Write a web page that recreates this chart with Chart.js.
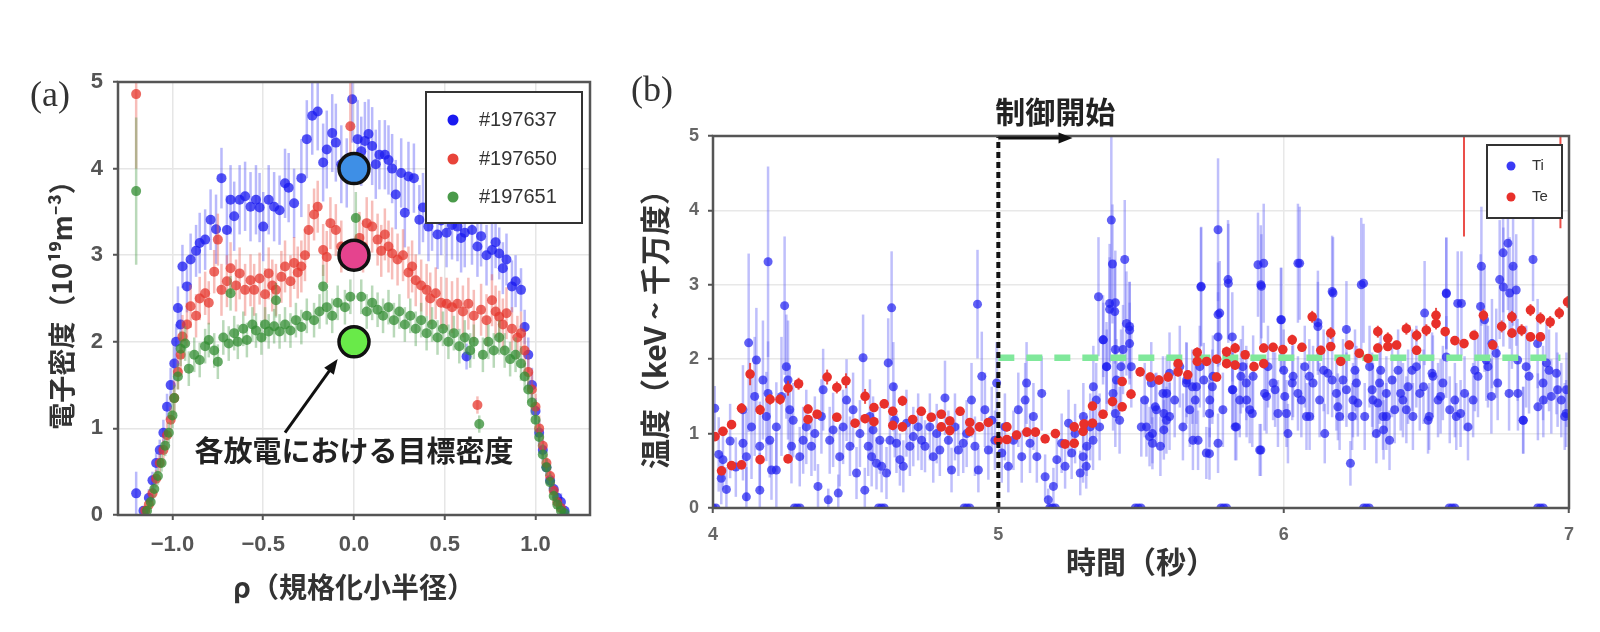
<!DOCTYPE html>
<html>
<head>
<meta charset="utf-8">
<script src="https://cdn.jsdelivr.net/npm/chart.js@4.4.1/dist/chart.umd.min.js"></script>
<style>
  html, body { margin: 0; padding: 0; background: #fff; }
  #wrap { position: relative; width: 1600px; height: 632px; overflow: hidden; }
  canvas { position: absolute; top: 0; }
  #chartA { left: 0; }
  #chartB { left: 610px; }
</style>
</head>
<body>
<div id="wrap">
  <canvas id="chartA" width="610" height="632"></canvas>
  <canvas id="chartB" width="990" height="632"></canvas>
</div>
<script>
// ---------- panel (a): electron density profiles ----------
const rhoTicks = [-1, -0.5, 0, 0.5, 1];
const rhoTickLabels = ['−1.0', '−0.5', '0.0', '0.5', '1.0'];
const densTicks = [0, 1, 2, 3, 4, 5];
const shotLabels = ['#197637', '#197650', '#197651'];
const targetDensity = [4, 3, 2]; // set points, all at rho = 0

// [rho, density, error]
const shot197637 = [
  [-1.20,0.25,0.25],[-1.16,0.05,0.05],[-1.13,0.2,0.1],[-1.11,0.4,0.1],[-1.09,0.6,0.12],[-1.07,0.75,0.12],
  [-1.05,0.95,0.15],[-1.03,1.25,0.15],[-1.01,1.5,0.2],[-0.99,1.75,0.2],[-0.98,2.0,0.2],[-0.97,2.39,0.25],
  [-0.955,2.2,0.2],[-0.945,2.87,0.25],[-0.92,2.64,0.3],[-0.90,2.95,0.3],[-0.87,3.05,0.3],[-0.85,3.14,0.35],
  [-0.82,3.18,0.35],[-0.79,3.41,0.35],[-0.76,3.3,0.4],[-0.73,3.89,0.35],[-0.70,3.29,0.4],[-0.68,3.64,0.4],
  [-0.66,3.45,0.4],[-0.63,3.64,0.4],[-0.60,3.68,0.4],[-0.57,3.56,0.4],[-0.54,3.64,0.4],[-0.52,3.55,0.4],
  [-0.50,3.33,0.4],[-0.47,3.64,0.4],[-0.44,3.56,0.4],[-0.41,3.52,0.4],[-0.38,3.83,0.4],[-0.36,3.78,0.4],
  [-0.33,3.6,0.4],[-0.29,3.89,0.45],[-0.26,4.34,0.45],[-0.23,4.61,0.45],[-0.20,4.66,0.45],[-0.17,4.07,0.45],
  [-0.15,4.22,0.45],[-0.12,4.41,0.45],[-0.10,4.30,0.45],[-0.07,4.05,0.45],[-0.04,3.95,0.4],[-0.01,4.80,0.5],
  [0.02,4.34,0.45],[0.04,4.2,0.4],[0.06,4.32,0.45],[0.08,4.4,0.4],[0.10,4.26,0.45],[0.12,4.05,0.4],
  [0.14,4.16,0.4],[0.17,4.16,0.4],[0.19,4.1,0.4],[0.21,4.0,0.4],[0.23,3.70,0.4],[0.26,3.95,0.4],
  [0.28,3.49,0.4],[0.30,3.91,0.4],[0.33,3.89,0.4],[0.36,3.41,0.4],[0.38,3.55,0.4],[0.41,3.33,0.4],
  [0.43,3.45,0.4],[0.46,3.24,0.4],[0.48,3.4,0.4],[0.51,3.26,0.4],[0.54,3.35,0.4],[0.57,3.33,0.4],
  [0.59,3.2,0.4],[0.61,3.26,0.4],[0.62,1.83,0.15],[0.65,3.29,0.4],[0.68,3.1,0.35],[0.70,3.22,0.35],
  [0.73,3.0,0.35],[0.76,3.06,0.35],[0.78,3.15,0.3],[0.80,3.02,0.3],[0.82,2.85,0.3],[0.84,2.95,0.3],
  [0.87,2.64,0.3],[0.89,2.7,0.3],[0.92,2.6,0.25],[0.94,2.17,0.2],[0.96,1.85,0.2],[0.98,1.5,0.2],
  [1.00,1.2,0.15],[1.02,0.95,0.15],[1.04,0.75,0.12],[1.06,0.55,0.1],[1.08,0.4,0.1],[1.10,0.3,0.1],
  [1.12,0.2,0.1],[1.14,0.15,0.1],[1.16,0.05,0.05]
];
const shot197650 = [
  [-1.20,4.86,0.86],[-1.15,0.05,0.05],[-1.13,0.12,0.08],[-1.11,0.25,0.1],[-1.09,0.42,0.1],[-1.07,0.6,0.12],
  [-1.05,0.75,0.12],[-1.03,0.92,0.15],[-1.01,1.1,0.15],[-0.99,1.35,0.2],[-0.97,1.65,0.2],[-0.955,1.85,0.2],
  [-0.945,2.06,0.25],[-0.92,2.2,0.25],[-0.90,2.41,0.25],[-0.87,2.3,0.25],[-0.85,2.5,0.25],[-0.82,2.56,0.25],
  [-0.80,2.45,0.25],[-0.77,2.81,0.25],[-0.75,3.18,0.3],[-0.73,2.6,0.3],[-0.70,2.7,0.3],[-0.68,2.85,0.3],
  [-0.65,2.65,0.3],[-0.63,2.79,0.3],[-0.60,2.6,0.3],[-0.57,2.71,0.3],[-0.55,2.6,0.3],[-0.52,2.73,0.3],
  [-0.49,2.55,0.3],[-0.47,2.79,0.3],[-0.45,2.65,0.3],[-0.43,2.60,0.3],[-0.40,2.75,0.3],[-0.38,2.87,0.3],
  [-0.35,2.7,0.3],[-0.33,2.91,0.3],[-0.31,2.8,0.3],[-0.29,2.87,0.3],[-0.27,3.0,0.3],[-0.25,3.29,0.3],
  [-0.22,3.47,0.3],[-0.20,3.56,0.3],[-0.17,3.06,0.3],[-0.15,2.98,0.3],[-0.13,3.37,0.3],[-0.10,3.29,0.3],
  [-0.07,3.1,0.3],[-0.02,4.49,0.5],[0.03,3.2,0.3],[0.05,3.1,0.3],[0.07,3.37,0.3],[0.10,3.33,0.3],
  [0.13,3.18,0.3],[0.15,3.05,0.3],[0.17,3.24,0.3],[0.19,3.1,0.3],[0.21,3.02,0.3],[0.24,2.95,0.3],
  [0.27,3.0,0.3],[0.30,2.8,0.3],[0.32,2.87,0.3],[0.34,2.71,0.3],[0.37,2.65,0.3],[0.40,2.60,0.3],
  [0.42,2.5,0.3],[0.45,2.56,0.3],[0.48,2.45,0.3],[0.51,2.44,0.3],[0.54,2.4,0.3],[0.57,2.44,0.3],
  [0.60,2.35,0.3],[0.63,2.44,0.3],[0.66,2.3,0.3],[0.68,1.27,0.1],[0.70,2.37,0.3],[0.73,2.25,0.3],
  [0.76,2.48,0.3],[0.78,2.35,0.3],[0.80,2.29,0.3],[0.82,2.2,0.3],[0.84,2.33,0.3],[0.87,2.15,0.25],
  [0.90,2.05,0.25],[0.92,2.10,0.25],[0.94,1.9,0.2],[0.96,1.65,0.2],[0.98,1.45,0.2],[1.00,1.25,0.15],
  [1.02,1.0,0.15],[1.04,0.8,0.12],[1.06,0.6,0.1],[1.08,0.45,0.1],[1.10,0.28,0.1],[1.12,0.15,0.08],
  [1.14,0.08,0.05]
];
const shot197651 = [
  [-1.20,3.74,0.85],[-1.14,0.05,0.05],[-1.12,0.15,0.08],[-1.10,0.3,0.1],[-1.08,0.45,0.1],[-1.06,0.6,0.1],
  [-1.04,0.8,0.12],[-1.02,0.95,0.12],[-1.00,1.15,0.15],[-0.99,1.35,0.15],[-0.97,1.6,0.15],[-0.955,1.92,0.2],
  [-0.93,1.98,0.2],[-0.91,1.69,0.2],[-0.88,1.85,0.2],[-0.85,1.79,0.2],[-0.82,1.95,0.2],[-0.80,2.02,0.2],
  [-0.77,1.9,0.2],[-0.75,1.77,0.2],[-0.72,2.05,0.2],[-0.69,1.98,0.2],[-0.68,2.56,0.2],[-0.66,2.1,0.2],
  [-0.64,2.0,0.2],[-0.61,2.15,0.2],[-0.59,2.02,0.2],[-0.56,2.2,0.2],[-0.54,2.13,0.2],[-0.51,2.05,0.2],
  [-0.49,2.2,0.2],[-0.47,2.12,0.2],[-0.44,2.18,0.2],[-0.43,2.48,0.2],[-0.41,2.12,0.2],[-0.38,2.2,0.2],
  [-0.35,2.13,0.2],[-0.32,2.25,0.2],[-0.29,2.17,0.2],[-0.26,2.3,0.2],[-0.22,2.25,0.2],[-0.19,2.35,0.2],
  [-0.17,2.64,0.25],[-0.15,2.40,0.2],[-0.12,2.3,0.2],[-0.09,2.45,0.2],[-0.05,2.4,0.2],[-0.02,2.52,0.2],
  [0.01,3.43,0.3],[0.04,2.52,0.2],[0.07,2.35,0.2],[0.10,2.45,0.2],[0.13,2.37,0.2],[0.16,2.3,0.2],
  [0.19,2.4,0.2],[0.22,2.25,0.2],[0.25,2.35,0.2],[0.28,2.2,0.2],[0.31,2.3,0.2],[0.34,2.15,0.2],
  [0.37,2.25,0.2],[0.40,2.1,0.2],[0.43,2.2,0.2],[0.46,2.05,0.2],[0.49,2.15,0.2],[0.52,2.0,0.2],
  [0.55,2.1,0.2],[0.58,1.95,0.2],[0.61,2.05,0.2],[0.64,1.9,0.2],[0.66,2.0,0.2],[0.69,1.05,0.1],
  [0.71,1.85,0.2],[0.74,2.0,0.2],[0.77,1.9,0.2],[0.80,2.05,0.2],[0.83,1.9,0.2],[0.86,1.8,0.2],
  [0.89,1.85,0.2],[0.92,1.75,0.2],[0.94,1.6,0.15],[0.96,1.45,0.15],[0.98,1.3,0.15],[1.00,1.1,0.15],
  [1.02,0.9,0.12],[1.04,0.7,0.12],[1.06,0.55,0.1],[1.08,0.38,0.1],[1.10,0.22,0.08],[1.12,0.12,0.06],
  [1.14,0.05,0.05],[1.16,0.02,0.03]
];

// ---------- panel (b): ion / electron temperature ----------
const timeTicks = [4, 5, 6, 7];
const tempTicks = [0, 1, 2, 3, 4, 5];
const controlStart = 5;
const targetTe = 2.02;
const targetEnd = 6.97;

// [time, Ti, error]
const ti = [
  [4.0,0,0],[4.01,0,0],[4.006,1.34,0.3],[4.02,0.72,0.5],[4.029,0.4,0.35],[4.035,0.65,0.4],[4.047,0.25,0.3],
  [4.06,0.9,0.5],[4.08,0.55,0.4],[4.105,1.32,0.6],[4.105,0.87,0.5],[4.117,0.69,0.6],[4.117,0.15,0.4],
  [4.125,2.22,1.2],[4.135,1.09,0.7],[4.146,1.5,0.8],[4.152,1.99,0.7],[4.164,0.83,0.6],[4.164,0.24,0.5],
  [4.175,1.72,0.8],[4.187,1.23,0.6],[4.193,3.31,1.28],[4.193,1.54,0.7],[4.199,0.91,0.5],[4.205,0.51,0.4],
  [4.222,0.51,0.5],[4.222,1.09,0.6],[4.240,1.5,0.8],[4.251,2.72,0.93],[4.257,1.9,0.7],[4.263,1.72,0.8],
  [4.269,1.32,0.6],[4.275,0.83,0.5],[4.281,1.18,0.5],[4.285,0,0],[4.295,0,0],[4.305,0,0],
  [4.304,0.69,0.4],[4.316,0.91,0.45],[4.327,1.09,0.5],[4.345,0.83,0.4],[4.357,1.0,0.5],[4.368,0.29,0.3],
  [4.380,1.23,0.5],[4.386,1.59,0.55],[4.404,0.11,0.15],[4.409,0.91,0.45],[4.421,1.05,0.5],[4.439,0.2,0.25],
  [4.444,0.69,0.4],[4.456,1.09,0.5],[4.468,1.45,0.55],[4.480,0.83,0.4],[4.491,1.32,0.5],[4.503,0.47,0.35],
  [4.515,1.0,0.45],[4.526,2.02,0.58],[4.532,0.24,0.3],[4.544,0.83,0.4],[4.550,1.23,0.5],[4.556,0.69,0.4],
  [4.561,1.05,0.45],[4.573,0.6,0.35],[4.585,0.91,0.45],[4.591,0.56,0.35],[4.58,0,0],[4.59,0,0],[4.60,0,0],
  [4.608,0.47,0.35],[4.614,1.95,0.6],[4.620,0.91,0.45],[4.626,2.69,0.76],[4.632,1.63,0.6],[4.637,1.18,0.5],
  [4.643,0.87,0.4],[4.655,0.65,0.35],[4.667,0.56,0.35],[4.678,1.14,0.45],[4.690,0.83,0.4],[4.702,0.96,0.4],
  [4.719,1.09,0.45],[4.731,0.91,0.4],[4.743,0.83,0.35],[4.760,1.09,0.45],[4.772,0.69,0.35],[4.784,1.0,0.4],
  [4.795,0.78,0.35],[4.813,1.48,0.5],[4.825,0.91,0.4],[4.836,0.51,0.3],[4.848,1.09,0.45],[4.860,0.78,0.35],
  [4.877,0.87,0.4],[4.889,1.0,0.45],[4.906,1.45,0.5],[4.918,0.83,0.4],[4.927,2.74,0.73],[4.930,0.51,0.3],
  [4.942,1.77,0.6],[4.953,1.32,0.5],[4.965,0.78,0.4],[4.977,1.18,0.45],[4.988,0.91,0.4],[4.994,1.68,0.55],
  [4.88,0,0],[4.89,0,0],[4.90,0,0],
  [5.012,0.74,0.4],[5.023,1.09,0.45],[5.035,0.56,0.35],[5.053,0.91,0.4],[5.070,1.32,0.5],[5.082,0.69,0.35],
  [5.094,1.45,0.5],[5.099,1.68,0.55],[5.111,0.87,0.4],[5.123,1.23,0.45],[5.135,0.69,0.35],[5.152,1.54,0.5],
  [5.164,0.42,0.3],[5.175,0.11,0.15],[5.193,0.29,0.25],[5.205,0.65,0.35],[5.222,0.87,0.4],[5.234,0.56,0.3],
  [5.246,1.14,0.45],[5.257,0.74,0.35],[5.269,1.0,0.4],[5.287,0.47,0.3],[5.297,0.69,0.35],[5.298,1.23,0.45],
  [5.308,0.56,0.3],[5.310,0.83,0.4],[5.322,1.09,0.45],[5.332,0.91,0.4],[5.333,1.63,0.55],[5.343,1.45,0.5],
  [5.351,2.84,0.8],[5.355,1.09,0.45],[5.18,0,0],[5.19,0,0],[5.20,0,0],
  [5.367,2.26,0.6],[5.379,1.9,0.6],[5.390,2.75,0.8],[5.396,3.87,1.2],[5.400,3.28,0.8],[5.402,1.54,0.5],
  [5.408,2.64,0.7],[5.414,1.72,0.55],[5.425,1.18,0.45],[5.437,2.13,0.6],[5.443,3.34,0.8],[5.449,2.48,0.7],
  [5.460,2.39,0.65],[5.466,1.9,0.55],[5.48,0,0],[5.49,0,0],[5.50,0,0],
  [5.501,1.09,0.4],[5.513,1.45,0.5],[5.530,0.96,0.4],[5.536,1.68,0.55],[5.554,1.32,0.5],[5.568,0.83,0.4],
  [5.577,1.54,0.5],[5.589,1.18,0.45],[5.600,1.81,0.55],[5.618,1.45,0.5],[5.636,1.9,0.55],[5.647,1.09,0.45],
  [5.659,1.68,0.55],[5.671,1.32,0.5],[5.682,0.91,0.4],[5.694,1.63,0.5],[5.706,1.9,0.55],[5.711,2.98,0.8],
  [5.729,0.74,0.35],[5.741,1.45,0.5],[5.752,1.77,0.55],[5.770,3.74,0.96],[5.770,2.6,0.7],[5.776,2.62,0.7],
  [5.787,1.32,0.5],[5.78,0,0],[5.79,0,0],[5.80,0,0],
  [5.805,3.07,0.8],[5.822,1.59,0.5],[5.834,1.09,0.45],[5.846,1.45,0.5],[5.857,1.9,0.55],[5.869,1.68,0.5],
  [5.881,1.32,0.45],[5.893,1.77,0.55],[5.910,3.27,0.7],[5.916,0.78,0.35],[5.922,2.98,0.7],[5.933,1.54,0.5],
  [5.945,1.9,0.55],[5.963,1.68,0.5],[5.980,1.27,0.45],[5.992,2.53,0.7],[6.004,1.5,0.5],[6.015,1.0,0.4],
  [6.033,1.77,0.55],
  [6.056,3.29,0.76],[6.062,1.45,0.5],[6.074,1.9,0.55],[6.091,1.23,0.45],[6.103,1.68,0.5],[6.120,2.49,0.7],
  [6.126,1.45,0.5],[6.144,1.0,0.4],[6.155,1.81,0.55],[6.173,2.89,0.75],[6.185,1.54,0.5],[6.196,1.23,0.45],
  [6.208,1.72,0.55],[6.220,2.4,0.65],[6.234,0.6,0.3],[6.243,1.45,0.5],[6.255,1.68,0.5],[6.272,3.0,0.9],
  [6.284,1.23,0.45],[6.301,1.9,0.55],[6.28,0,0],[6.29,0,0],[6.30,0,0],
  [6.313,1.45,0.5],[6.325,1.0,0.4],[6.336,1.68,0.55],[6.348,1.23,0.45],[6.360,1.54,0.5],[6.371,0.91,0.4],
  [6.389,1.32,0.45],[6.401,1.85,0.55],[6.418,1.45,0.5],[6.436,1.63,0.5],[6.453,1.23,0.45],[6.465,1.9,0.55],
  [6.477,1.54,0.5],[6.494,2.62,0.7],[6.506,1.18,0.45],[6.523,1.77,0.55],[6.541,1.45,0.5],[6.558,1.68,0.5],
  [6.570,2.89,0.75],[6.582,1.32,0.45],[6.58,0,0],[6.59,0,0],[6.60,0,0],
  [6.605,1.23,0.45],[6.623,2.75,0.7],[6.634,1.54,0.5],[6.646,1.09,0.45],[6.664,1.45,0.5],[6.681,1.77,0.55],
  [6.693,3.25,0.8],[6.704,2.53,0.7],[6.716,1.9,0.55],[6.728,1.5,0.5],[6.745,2.08,0.6],[6.757,3.07,0.8],
  [6.769,3.43,0.8],[6.786,3.56,0.9],[6.792,2.89,0.75],[6.804,3.25,0.8],[6.815,2.93,0.75],[6.821,1.54,0.5],
  [6.839,1.18,0.45],[6.850,1.9,0.55],[6.874,3.34,0.56],[6.891,1.36,0.45],[6.909,1.68,0.5],[6.921,1.95,0.55],
  [6.938,1.5,0.5],[6.956,1.81,0.55],[6.973,1.45,0.5],[6.985,1.23,0.45],[6.991,1.59,0.5],
  [6.89,0,0],[6.90,0,0],[6.91,0,0],
  // second pass over the dense band after 5.35 s
  [5.368,2.26,0.5],[5.39,2.67,0.7],[5.41,2.76,0.7],[5.38,1.9,0.5],[5.41,2.13,0.55],[5.43,1.9,0.5],
  [5.46,2.44,0.6],[5.46,2.21,0.55],[5.41,1.27,0.45],[5.519,1.09,0.4],[5.54,1.0,0.4],[5.55,1.36,0.45],
  [5.58,1.27,0.45],[5.59,1.54,0.5],[5.60,1.23,0.45],[5.54,0.87,0.35],[5.58,1.05,0.4],[5.66,1.72,0.5],
  [5.68,1.63,0.5],[5.69,1.45,0.5],[5.70,0.91,0.4],[5.71,2.97,0.8],[5.72,1.72,0.5],[5.74,1.27,0.45],
  [5.75,1.63,0.5],[5.77,0.87,0.4],[5.74,0.73,0.35],[5.77,2.3,0.6],[5.806,3.02,0.8],[5.82,2.3,0.6],
  [5.82,1.59,0.5],[5.83,1.09,0.45],[5.85,1.77,0.5],[5.87,1.45,0.5],[5.89,1.27,0.45],[5.92,3.0,0.8],
  [5.93,3.29,0.8],[5.94,1.5,0.5],[5.92,0.78,0.35],[5.97,1.59,0.5],[5.99,2.53,0.7],[6.0,1.85,0.55],
  [6.01,1.27,0.45],[6.03,1.68,0.5],[6.05,3.29,0.8],[6.05,1.54,0.5],[6.08,1.23,0.45],[6.09,1.77,0.5],
  [6.12,2.44,0.6],[6.14,1.85,0.55],[6.17,2.91,0.75],[6.17,1.72,0.5],[6.19,1.36,0.45],[6.22,1.59,0.5],
  [6.24,1.23,0.45],[6.25,1.85,0.55],[6.28,3.02,0.8],[6.26,1.41,0.45],[6.31,1.59,0.5],[6.33,1.41,0.45],
  [6.34,1.85,0.55],[6.36,1.23,0.45],[6.38,1.72,0.5],[6.41,1.54,0.5],[6.43,1.32,0.45],[6.45,1.85,0.55],
  [6.35,1.05,0.4],[6.49,1.63,0.5],[6.51,1.23,0.45],[6.52,1.81,0.55],[6.55,1.5,0.5],[6.57,2.88,0.75],
  [6.57,2.03,0.55],[6.60,1.45,0.5],[6.62,1.27,0.45],[6.61,2.75,0.7],[6.67,1.85,0.55],[6.69,2.71,0.7],
  [6.71,1.99,0.55],[6.73,2.21,0.6],[6.75,1.68,0.5],[6.77,2.97,0.8],[6.79,1.54,0.5],[6.80,2.57,0.7],
  [6.82,1.99,0.55],[6.84,1.18,0.45],[6.86,1.77,0.5],[6.89,2.21,0.6],[6.91,1.45,0.5],[6.93,1.85,0.55],
  [6.96,1.59,0.5],[6.99,1.27,0.45]
];

// [time, Te, error]
const te = [
  [4.007,0.96,0.06],[4.035,1.03,0.06],[4.03,0.50,0.06],[4.065,1.12,0.06],[4.065,0.57,0.05],[4.10,0.58,0.05],
  [4.10,1.34,0.07],[4.13,1.80,0.15],[4.165,1.32,0.07],[4.165,0.65,0.05],[4.20,1.46,0.07],[4.235,1.46,0.07],
  [4.263,1.61,0.1],[4.263,0.66,0.05],[4.30,1.67,0.08],[4.333,1.33,0.06],[4.333,1.19,0.06],[4.365,1.26,0.06],
  [4.40,1.76,0.1],[4.434,1.62,0.08],[4.434,1.22,0.06],[4.466,1.71,0.1],[4.498,1.14,0.06],[4.533,1.50,0.1],
  [4.533,1.20,0.06],[4.564,1.35,0.06],[4.564,1.16,0.06],[4.60,1.40,0.06],[4.63,1.30,0.06],[4.63,1.11,0.06],
  [4.664,1.44,0.07],[4.664,1.09,0.06],[4.70,1.19,0.06],[4.73,1.30,0.06],[4.765,1.22,0.06],[4.80,1.26,0.06],
  [4.80,1.09,0.06],[4.83,1.17,0.06],[4.83,1.04,0.06],[4.866,1.30,0.06],[4.90,1.15,0.06],[4.90,1.03,0.06],
  [4.934,1.09,0.06],[4.965,1.15,0.06],[5.0,0.91,0.06],[5.03,1.09,0.06],[5.03,0.92,0.06],[5.064,0.98,0.06],
  [5.10,1.02,0.06],[5.13,1.02,0.06],[5.164,0.93,0.06],[5.20,1.0,0.06],[5.234,0.86,0.06],[5.266,0.87,0.06],
  [5.266,1.09,0.06],[5.297,1.03,0.06],[5.30,1.13,0.06],[5.33,1.14,0.06],[5.33,1.37,0.06],[5.367,1.26,0.06],
  [5.40,1.43,0.06],[5.434,1.36,0.06],[5.434,1.70,0.06],[5.465,1.53,0.06],[5.497,1.83,0.06],[5.532,1.76,0.06],
  [5.563,1.72,0.06],[5.595,1.76,0.06],[5.63,1.83,0.06],[5.63,1.94,0.06],[5.664,1.79,0.06],[5.697,2.09,0.07],
  [5.697,1.97,0.06],[5.73,1.97,0.06],[5.765,1.76,0.06],[5.765,2.0,0.06],[5.80,2.10,0.07],[5.80,1.94,0.06],
  [5.83,2.15,0.07],[5.83,1.92,0.06],[5.865,2.06,0.06],[5.896,1.90,0.06],[5.93,1.94,0.06],[5.93,2.15,0.06],
  [5.963,2.16,0.06],[5.997,2.13,0.06],[6.03,2.26,0.07],[6.064,2.16,0.06],[6.10,2.57,0.08],[6.13,2.12,0.06],
  [6.165,2.35,0.08],[6.165,2.17,0.06],[6.20,1.97,0.06],[6.23,2.19,0.06],[6.265,2.08,0.06],[6.296,2.01,0.06],
  [6.33,2.37,0.08],[6.33,2.15,0.06],[6.365,2.28,0.08],[6.365,2.17,0.06],[6.396,2.19,0.06],[6.43,2.41,0.08],
  [6.466,2.32,0.08],[6.466,2.12,0.06],[6.50,2.39,0.08],[6.534,2.59,0.1],[6.534,2.48,0.08],[6.566,2.37,0.06],
  [6.60,2.25,0.06],[6.632,2.21,0.06],[6.632,5.9,2.25],[6.667,2.32,0.06],[6.70,2.59,0.08],[6.733,2.19,0.06],
  [6.764,2.44,0.08],[6.80,2.35,0.06],[6.80,2.57,0.08],[6.834,2.39,0.08],[6.865,2.66,0.08],[6.865,2.30,0.06],
  [6.90,2.55,0.08],[6.90,2.30,0.06],[6.934,2.50,0.08],[6.966,2.62,0.08],[6.97,6.0,2.24],[6.995,2.77,0.08]
];

// ---------- helpers ----------
const tickFont = '"Liberation Sans", Arial, sans-serif';
const jpFont = '"Noto Sans CJK JP", "Noto Sans", sans-serif';
const toPoints = rows => rows.map(([x, y, e]) => ({x, y, e}));
const fixTicks = values => scale => { scale.ticks = values.map(v => ({value: v})); };

function drawArrow(ctx, x0, y0, x1, y1, width, head) {
  const ang = Math.atan2(y1 - y0, x1 - x0);
  ctx.strokeStyle = '#111';
  ctx.fillStyle = '#111';
  ctx.lineWidth = width;
  ctx.beginPath();
  ctx.moveTo(x0, y0);
  ctx.lineTo(x1 - Math.cos(ang) * head * 0.8, y1 - Math.sin(ang) * head * 0.8);
  ctx.stroke();
  ctx.beginPath();
  ctx.moveTo(x1, y1);
  ctx.lineTo(x1 - head * Math.cos(ang - 0.38), y1 - head * Math.sin(ang - 0.38));
  ctx.lineTo(x1 - head * Math.cos(ang + 0.38), y1 - head * Math.sin(ang + 0.38));
  ctx.closePath();
  ctx.fill();
}

// vertical error bars, drawn right before each dataset's markers
const errorBars = {
  id: 'errorBars',
  beforeDatasetDraw(chart, args) {
    const ds = chart.data.datasets[args.index];
    if (!ds.errColor) return;
    const {ctx, chartArea: a, scales: {x, y}} = chart;
    ctx.save();
    ctx.beginPath();
    ctx.rect(a.left, a.top, a.width, a.height);
    ctx.clip();
    ctx.strokeStyle = ds.errColor;
    ctx.lineWidth = ds.errWidth;
    ds.data.forEach(p => {
      if (!p.e) return;
      const px = x.getPixelForValue(p.x);
      ctx.beginPath();
      ctx.moveTo(px, y.getPixelForValue(p.y - p.e));
      ctx.lineTo(px, y.getPixelForValue(p.y + p.e));
      ctx.stroke();
    });
    ctx.restore();
  }
};

// box around the plot area
const frame = {
  id: 'frame',
  afterDatasetsDraw(chart, args, opts) {
    const {ctx, chartArea: a} = chart;
    ctx.save();
    ctx.strokeStyle = opts.color;
    ctx.lineWidth = opts.width;
    ctx.strokeRect(a.left, a.top, a.width, a.height);
    ctx.restore();
  }
};

// matplotlib-like boxed legend inside the plot area
const boxLegend = {
  id: 'boxLegend',
  afterDraw(chart, args, o) {
    const {ctx, chartArea: a} = chart;
    const left = a.right - o.right - o.width;
    const top = a.top + o.top;
    ctx.save();
    ctx.fillStyle = '#fff';
    ctx.fillRect(left, top, o.width, o.height);
    ctx.strokeStyle = '#333';
    ctx.lineWidth = 2;
    ctx.strokeRect(left, top, o.width, o.height);
    ctx.font = o.font;
    ctx.textBaseline = 'middle';
    chart.data.datasets.filter(d => d.legendRow !== undefined).forEach(d => {
      const yy = top + o.rows[d.legendRow];
      ctx.fillStyle = d.legendColor;
      ctx.beginPath();
      ctx.arc(left + o.markerX, yy, o.radius, 0, Math.PI * 2);
      ctx.fill();
      ctx.fillStyle = '#333';
      ctx.fillText(d.label, left + o.textX, yy);
    });
    ctx.restore();
  }
};

const notesA = {
  id: 'notesA',
  afterDraw(chart) {
    const {ctx, scales: {x, y}} = chart;
    ctx.save();
    ctx.font = '36px "Liberation Serif", serif';
    ctx.fillStyle = '#333';
    ctx.textAlign = 'center';
    ctx.textBaseline = 'middle';
    ctx.fillText('(a)', 50, 97);
    drawArrow(ctx, x.getPixelForValue(-0.38), y.getPixelForValue(0.95),
      x.getPixelForValue(-0.09), y.getPixelForValue(1.8), 3, 16);
    ctx.font = 'bold 29px ' + jpFont;
    ctx.fillStyle = '#222';
    ctx.fillText('各放電における目標密度', x.getPixelForValue(0), y.getPixelForValue(0.74));
    ctx.restore();
  }
};

const notesB = {
  id: 'notesB',
  afterDraw(chart) {
    const {ctx, chartArea: a, scales: {x}} = chart;
    ctx.save();
    ctx.font = '36px "Liberation Serif", serif';
    ctx.fillStyle = '#333';
    ctx.textAlign = 'center';
    ctx.textBaseline = 'middle';
    ctx.fillText('(b)', 42, 92);
    const x0 = x.getPixelForValue(controlStart);
    ctx.font = 'bold 30px ' + jpFont;
    ctx.fillStyle = '#222';
    ctx.textAlign = 'left';
    ctx.fillText('制御開始', x0 - 3, a.top - 24);
    drawArrow(ctx, x0, a.top + 2, x.getPixelForValue(5.26), a.top + 2, 3, 15);
    ctx.restore();
  }
};

// ---------- chart (a) ----------
new Chart(document.getElementById('chartA'), {
  type: 'scatter',
  data: {
    datasets: [
      {
        label: shotLabels[0], data: toPoints(shot197637), order: 3, legendRow: 0,
        legendColor: '#1a1af0',
        backgroundColor: 'rgba(25,25,240,0.75)', borderWidth: 0, pointRadius: 5,
        errColor: 'rgba(80,80,245,0.4)', errWidth: 2.5
      },
      {
        label: shotLabels[1], data: toPoints(shot197650), order: 2, legendRow: 1,
        legendColor: '#e8443a',
        backgroundColor: 'rgba(230,55,45,0.75)', borderWidth: 0, pointRadius: 5,
        errColor: 'rgba(235,90,80,0.4)', errWidth: 2.5
      },
      {
        label: shotLabels[2], data: toPoints(shot197651), order: 1, legendRow: 2,
        legendColor: '#4a9a4a',
        backgroundColor: 'rgba(50,140,50,0.75)', borderWidth: 0, pointRadius: 5,
        errColor: 'rgba(80,160,80,0.4)', errWidth: 2.5
      },
      {
        label: 'target', data: targetDensity.map(v => ({x: 0, y: v})), order: 0,
        backgroundColor: ['#3e8fe6', '#e5438e', '#69ea49'],
        borderColor: '#111', borderWidth: 3.5, pointRadius: 15
      }
    ]
  },
  options: {
    responsive: false,
    animation: false,
    events: [],
    layout: {padding: {left: 0, top: 82, right: 20, bottom: 0}},
    plugins: {
      legend: {display: false},
      tooltip: {enabled: false},
      frame: {color: '#555', width: 2.5},
      boxLegend: {
        width: 156, height: 131, right: 8, top: 10, rows: [28, 67, 105],
        markerX: 27, textX: 53, radius: 5.5, font: '20px ' + tickFont
      }
    },
    scales: {
      x: {
        type: 'linear', min: -1.3, max: 1.3,
        afterBuildTicks: fixTicks(rhoTicks),
        afterFit: s => { s.height = 117; },
        grid: {color: '#e6e6e6', lineWidth: 1.5, tickColor: '#555', tickLength: 5, tickWidth: 2},
        border: {display: false},
        ticks: {
          callback: (v, i) => rhoTickLabels[i],
          font: {family: tickFont, size: 22, weight: 'bold'}, color: '#555', padding: 12, maxRotation: 0
        },
        title: {
          display: true, text: 'ρ（規格化小半径）',
          font: {family: jpFont, size: 28, weight: 'bold'}, color: '#333', padding: {bottom: 28}
        }
      },
      y: {
        type: 'linear', min: 0, max: 5,
        afterBuildTicks: fixTicks(densTicks),
        afterFit: s => { s.width = 118; },
        grid: {color: '#e6e6e6', lineWidth: 1.5, tickColor: '#555', tickLength: 5, tickWidth: 2},
        border: {display: false},
        ticks: {
          callback: v => String(v),
          font: {family: tickFont, size: 22, weight: 'bold'}, color: '#555', padding: 10
        },
        title: {
          display: true, text: '電子密度（10¹⁹m⁻³）',
          font: {family: jpFont, size: 27, weight: 'bold'}, color: '#333', padding: {top: 46}
        }
      }
    }
  },
  plugins: [errorBars, frame, boxLegend, notesA]
});

// ---------- chart (b) ----------
new Chart(document.getElementById('chartB'), {
  type: 'scatter',
  data: {
    datasets: [
      {
        label: 'Ti', data: toPoints(ti), order: 3, legendRow: 0,
        legendColor: '#3a3af5',
        backgroundColor: 'rgba(30,30,240,0.7)', borderWidth: 0, pointRadius: 4.5,
        errColor: 'rgba(95,95,245,0.4)', errWidth: 2.5
      },
      {
        label: 'target', data: [{x: controlStart, y: targetTe}, {x: targetEnd, y: targetTe}],
        order: 2, showLine: true, borderColor: '#80e89b', borderWidth: 6.5,
        borderDash: [16, 12], pointRadius: 0
      },
      {
        label: 'Te', data: toPoints(te), order: 1, legendRow: 1,
        legendColor: '#e8302a',
        backgroundColor: '#e8302a', borderWidth: 0, pointRadius: 4.8,
        errColor: 'rgba(232,48,42,0.85)', errWidth: 2
      },
      {
        label: 'start', data: [{x: controlStart, y: 0}, {x: controlStart, y: 5}],
        order: 0, showLine: true, borderColor: '#111', borderWidth: 4,
        borderDash: [6, 4], pointRadius: 0
      }
    ]
  },
  options: {
    responsive: false,
    animation: false,
    events: [],
    layout: {padding: {left: 0, top: 136, right: 31, bottom: 0}},
    plugins: {
      legend: {display: false},
      tooltip: {enabled: false},
      frame: {color: '#555', width: 2.5},
      boxLegend: {
        width: 75, height: 73, right: 7, top: 9, rows: [21, 52],
        markerX: 24, textX: 45, radius: 4.5, font: '15px ' + tickFont
      }
    },
    scales: {
      x: {
        type: 'linear', min: 4, max: 7,
        afterBuildTicks: fixTicks(timeTicks),
        afterFit: s => { s.height = 124; },
        grid: {color: '#e8e8e8', lineWidth: 1.5, tickColor: '#555', tickLength: 5, tickWidth: 2},
        border: {display: false},
        ticks: {
          callback: v => String(v),
          font: {family: tickFont, size: 18, weight: 'bold'}, color: '#666', padding: 11, maxRotation: 0
        },
        title: {
          display: true, text: '時間（秒）',
          font: {family: jpFont, size: 30, weight: 'bold'}, color: '#333', padding: {bottom: 52}
        }
      },
      y: {
        type: 'linear', min: 0, max: 5,
        afterBuildTicks: fixTicks(tempTicks),
        afterFit: s => { s.width = 103; },
        grid: {color: '#e8e8e8', lineWidth: 1.5, tickColor: '#555', tickLength: 5, tickWidth: 2},
        border: {display: false},
        ticks: {
          callback: v => String(v),
          font: {family: tickFont, size: 18, weight: 'bold'}, color: '#666', padding: 9
        },
        title: {
          display: true, text: '温度（keV ~ 千万度）',
          font: {family: jpFont, size: 30, weight: 'bold'}, color: '#333', padding: {top: 27}
        }
      }
    }
  },
  plugins: [errorBars, frame, boxLegend, notesB]
});
</script>
</body>
</html>
